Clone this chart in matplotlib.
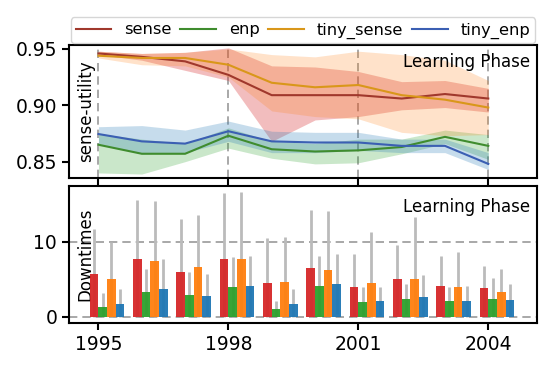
import matplotlib
matplotlib.use("Agg")
import matplotlib.pyplot as plt
import numpy as np

years = np.arange(1995, 2005)
xticks = [1995, 1998, 2001, 2004]

# Top panel: sense-utility lines with bands
sense_u = [0.946, 0.943, 0.939, 0.927, 0.909, 0.909, 0.909, 0.906, 0.910, 0.906]
sense_lo = [0.945, 0.940, 0.931, 0.922, 0.868, 0.887, 0.890, 0.896, 0.898, 0.894]
sense_hi = [0.948, 0.946, 0.947, 0.951, 0.935, 0.934, 0.930, 0.921, 0.922, 0.915]

enp_u = [0.865, 0.857, 0.857, 0.873, 0.861, 0.859, 0.860, 0.863, 0.872, 0.864]
enp_lo = [0.840, 0.839, 0.850, 0.862, 0.853, 0.848, 0.849, 0.857, 0.866, 0.852]
enp_hi = [0.875, 0.870, 0.866, 0.880, 0.868, 0.866, 0.870, 0.870, 0.878, 0.874]

tsense_u = [0.944, 0.942, 0.942, 0.936, 0.920, 0.916, 0.918, 0.909, 0.905, 0.898]
tsense_lo = [0.942, 0.936, 0.935, 0.925, 0.895, 0.890, 0.888, 0.876, 0.873, 0.874]
tsense_hi = [0.948, 0.946, 0.947, 0.950, 0.945, 0.943, 0.948, 0.945, 0.940, 0.922]

tenp_u = [0.8745, 0.868, 0.866, 0.877, 0.868, 0.867, 0.867, 0.864, 0.864, 0.848]
tenp_lo = [0.866, 0.857, 0.858, 0.868, 0.858, 0.858, 0.860, 0.858, 0.858, 0.843]
tenp_hi = [0.881, 0.882, 0.878, 0.886, 0.877, 0.876, 0.876, 0.870, 0.870, 0.858]

# Bottom panel: downtimes bars with error bars
sense_dt = [5.65, 7.65, 6.0, 7.65, 4.45, 6.45, 3.9, 4.95, 4.1, 3.78]
sense_err = [6.0, 7.9, 7.0, 8.8, 6.0, 7.75, 4.45, 4.6, 4.0, 3.0]
enp_dt = [1.33, 3.33, 2.9, 4.0, 1.03, 4.1, 1.96, 2.36, 2.05, 2.36]
enp_err = [1.8, 3.0, 3.0, 4.0, 1.0, 4.0, 2.05, 2.0, 1.95, 2.75]
tsense_dt = [4.98, 7.42, 6.58, 7.65, 4.67, 6.15, 4.45, 5.07, 3.9, 3.25]
tsense_err = [5.0, 8.0, 6.9, 8.95, 6.0, 7.95, 6.8, 8.2, 4.7, 3.05]
tenp_dt = [1.65, 3.7, 2.76, 4.1, 1.65, 4.36, 2.1, 2.58, 2.05, 2.27]
tenp_err = [2.0, 3.95, 2.95, 4.0, 2.05, 4.0, 1.9, 3.0, 2.05, 2.05]

names = ["sense", "enp", "tiny_sense", "tiny_enp"]
line_colors = ["#a0382c", "#3f8c2e", "#d9971a", "#3b5fb3"]
band_colors = ["tab:red", "tab:green", "tab:orange", "tab:blue"]
band_alpha = [0.3, 0.25, 0.22, 0.25]
bar_colors = ["#d62728", "#2ca02c", "#ff7f0e", "#1f77b4"]

fig = plt.figure(figsize=(5.5, 3.66), dpi=100)
ax1 = fig.add_axes([0.1255, 0.5137, 0.8505, 0.3633])
ax2 = fig.add_axes([0.1255, 0.1175, 0.8505, 0.3745], sharex=ax1)

lines = [(sense_u, sense_lo, sense_hi), (enp_u, enp_lo, enp_hi),
         (tsense_u, tsense_lo, tsense_hi), (tenp_u, tenp_lo, tenp_hi)]
handles = []
for i, (u, lo, hi) in enumerate(lines):
    ax1.fill_between(years, lo, hi, color=band_colors[i], alpha=band_alpha[i], lw=0)
for i, (u, lo, hi) in enumerate(lines):
    h, = ax1.plot(years, u, color=line_colors[i], lw=1.5, label=names[i])
    handles.append(h)

ax1.set_ylim(0.8355, 0.9535)
ax1.set_yticks([0.85, 0.90, 0.95])
ax1.set_yticklabels(["0.85", "0.90", "0.95"])
ax1.grid(axis="x", color="#999999", ls=(0, (5, 3)), lw=1.2)
ax1.set_axisbelow(True)
ax1.set_ylabel("sense-utility", fontsize=12)
ax1.yaxis.set_label_coords(0.055, 0.5)
ax1.text(0.985, 0.94, "Learning Phase", transform=ax1.transAxes,
         ha="right", va="top", fontsize=12)
leg = ax1.legend(handles=handles, loc="lower left", bbox_to_anchor=(0, 1.0, 1, 0.2),
                 mode="expand", ncol=4, prop={"size": 11.7}, borderaxespad=0.1,
                 borderpad=0.3, handlelength=2.2, handletextpad=0.8,
                 framealpha=0.8, edgecolor="#cccccc")
plt.setp(ax1.get_xticklabels(), visible=False)

bars = [(sense_dt, sense_err), (enp_dt, enp_err), (tsense_dt, tsense_err), (tenp_dt, tenp_err)]
w = 0.2
for i, (v, e) in enumerate(bars):
    x = years + (i - 0.5) * w
    v = np.array(v)
    e = np.array(e)
    lower = np.minimum(e, v)
    ax2.errorbar(x, v, yerr=[lower, e], fmt="none", ecolor="#bbbbbb", elinewidth=2,
                 capsize=0, zorder=2)
    ax2.bar(x, v, width=w, color=bar_colors[i], alpha=0.95, zorder=3)

ax2.set_ylim(-0.84, 17.4)
ax2.set_yticks([0, 10])
ax2.grid(axis="y", color="#999999", ls=(0, (5, 3)), lw=1.2, zorder=1)
ax2.set_axisbelow(True)
ax2.set_ylabel("Downtimes", fontsize=12)
ax2.yaxis.set_label_coords(0.055, 0.5)
ax2.text(0.985, 0.91, "Learning Phase", transform=ax2.transAxes,
         ha="right", va="top", fontsize=12)

ax1.set_xlim(1994.32, 2005.12)
ax1.set_xticks(xticks)
ax2.set_xticklabels([str(t) for t in xticks])

for ax in (ax1, ax2):
    for s in ax.spines.values():
        s.set_linewidth(1.5)
    ax.tick_params(axis="both", direction="out", length=5, width=1.5, labelsize=13.5)

fig.savefig("out.png", dpi=100)
